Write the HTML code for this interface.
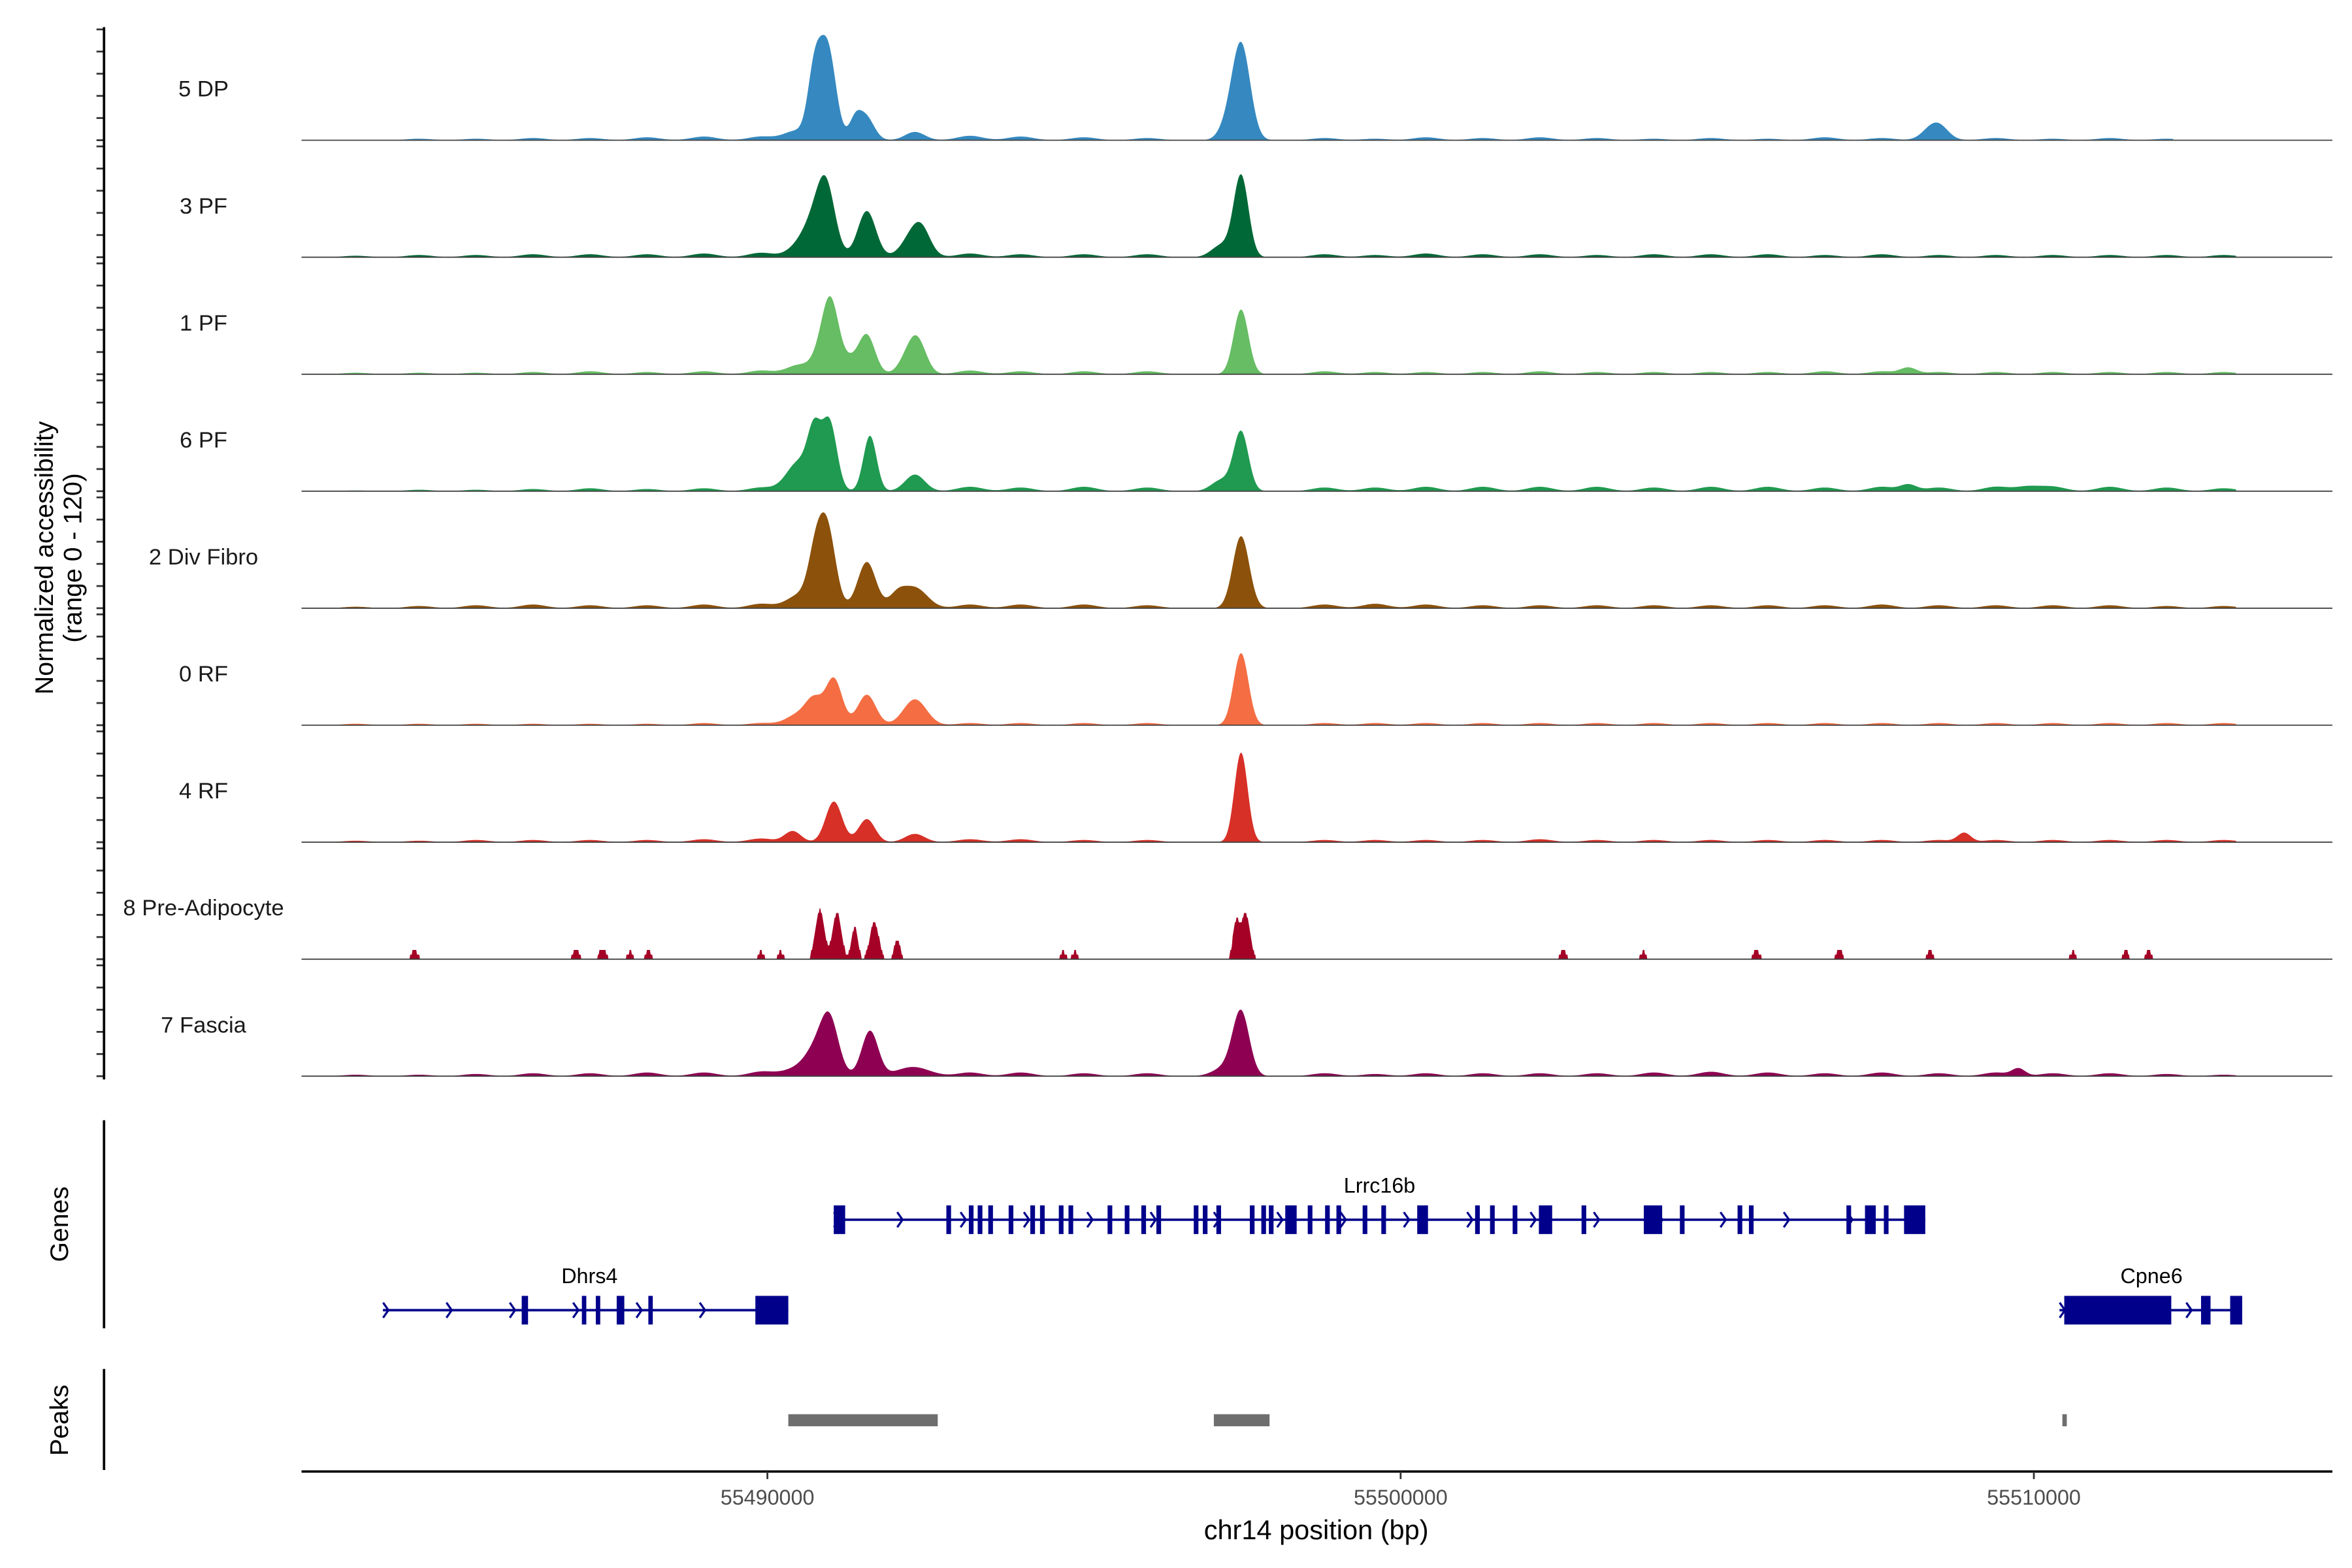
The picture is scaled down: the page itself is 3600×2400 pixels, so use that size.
<!DOCTYPE html>
<html><head><meta charset="utf-8"><style>
html,body{margin:0;padding:0;background:#fff}
svg{display:block}
text{font-family:"Liberation Sans",Arial,sans-serif}
</style></head><body>
<svg id="chart" xmlns="http://www.w3.org/2000/svg" width="3600" height="2400" viewBox="0 0 1560 1040">
<rect x="0" y="0" width="1560" height="1040" fill="#fff"/>
<g id="tracks"></g>
<g id="genes"></g>
<g id="peaks"></g>
<g id="axes"></g>
<text transform="translate(35,370) rotate(-90)" text-anchor="middle" font-size="17" fill="#000">Normalized accessibility</text>
<text transform="translate(54,370) rotate(-90)" text-anchor="middle" font-size="17" fill="#000">(range 0 - 120)</text>
<text transform="translate(45,812) rotate(-90)" text-anchor="middle" font-size="17" fill="#000">Genes</text>
<text transform="translate(45,942) rotate(-90)" text-anchor="middle" font-size="17" fill="#000">Peaks</text>
<text x="873" y="1021" text-anchor="middle" font-size="18" fill="#000">chr14 position (bp)</text>
</svg>
<script>
// ---- data (positions in kb offset from 55480000, values in accessibility units 0-120) ----
const trackNames = ["5 DP","3 PF","1 PF","6 PF","2 Div Fibro","0 RF","4 RF","8 Pre-Adipocyte","7 Fascia"];
const trackColors = ["#3589c0","#006837","#66bd63","#1f9a50","#8c510a","#f46d43","#d73027","#a50026","#8e0152"];
const trackStart = [3.2,3.0,3.0,3.0,3.0,3.0,3.0,4.3,3.0];
const trackEnd = [32.2,33.2,33.2,33.2,33.2,33.2,33.2,31.9,33.2];
const peakPos = [
 [10.45,10.74,10.95,11.38,11.55,12.33,17.25,17.48,28.40,28.55],
 [10.55,10.74,10.93,11.57,12.33,12.45,17.17,17.48],
 [10.50,10.83,11.00,11.30,11.57,12.28,12.40,17.48,28.02],
 [10.50,10.74,10.98,11.62,12.33,17.17,17.48,28.02,29.90],
 [10.50,10.76,10.95,11.57,12.05,12.33,17.48],
 [10.50,10.74,11.05,11.57,12.33,17.48],
 [10.40,11.05,11.57,12.33,17.48,28.90],
 [4.43,6.98,7.40,7.83,8.12,9.90,10.21,10.83,11.10,11.38,11.69,12.05,14.67,14.86,17.40,17.55,22.57,23.83,25.62,26.93,28.36,30.62,31.45,31.81],
 [10.55,10.75,10.98,11.62,12.30,17.25,17.48,29.76]
];
const peakVal = [
 [10,66,100,18,26,9,12,104,13,6],
 [15,26,72,50,28,13,13,88],
 [10,16,76,13,42,28,18,70,7],
 [32,55,74,60,18,12,64,7,5],
 [14,52,82,50,13,22,78],
 [12,24,50,33,28,78],
 [12,44,25,9,97,10],
 [9,10,11,8,9,8,8,53,50,35,40,20,8,8,38,50,10,8,9,11,9,8,9,9],
 [10,19,60,49,10,10,67,8]
];
const peakWidth = [
 [0.15,0.08,0.10,0.07,0.10,0.12,0.10,0.11,0.12,0.10],
 [0.15,0.12,0.11,0.11,0.14,0.10,0.12,0.09],
 [0.15,0.10,0.10,0.10,0.10,0.12,0.10,0.09,0.10],
 [0.15,0.08,0.09,0.08,0.12,0.12,0.09,0.10,0.15],
 [0.15,0.09,0.10,0.11,0.10,0.15,0.10],
 [0.15,0.10,0.10,0.11,0.14,0.09],
 [0.10,0.10,0.10,0.12,0.08,0.08],
 [0.06,0.06,0.06,0.05,0.05,0.05,0.05,0.07,0.07,0.05,0.07,0.05,0.05,0.05,0.05,0.07,0.05,0.05,0.06,0.05,0.05,0.05,0.05,0.05],
 [0.20,0.12,0.11,0.10,0.20,0.15,0.10,0.08]
];
const bgPos = [3.5,4.5,5.4,6.3,7.2,8.1,9.0,9.9,13.2,14.0,15.0,16.0,18.8,19.6,20.4,21.3,22.2,23.1,24.0,24.9,25.8,26.7,27.6,28.5,29.4,30.3,31.2,32.1,33.0];
const bgVal = [
 [0,2,2,3,3,4,5,5,6,5,4,3,3,2,4,3,4,3,2,3,2,4,3,3,3,2,3,2,0],
 [2,3,3,4,4,4,5,6,5,4,4,4,4,3,5,4,4,3,4,4,4,3,4,3,3,3,3,3,3],
 [2,2,2,3,4,3,4,5,5,4,4,4,4,3,3,3,4,3,3,3,3,4,4,3,3,3,3,3,3],
 [1,2,2,3,4,3,4,5,6,5,6,5,5,5,6,6,6,6,5,6,6,5,6,5,6,6,6,5,4],
 [2,3,4,5,4,4,5,6,5,5,5,4,5,6,5,4,4,4,4,4,4,4,5,4,4,4,4,3,3],
 [2,2,2,2,2,2,3,3,3,3,3,3,3,3,3,3,3,3,3,3,3,3,3,3,3,3,3,3,3],
 [2,2,3,3,3,3,4,5,4,4,3,3,3,3,3,3,4,3,3,3,3,3,3,3,3,3,3,3,3],
 [0,0,0,0,0,0,0,0,0,0,0,0,0,0,0,0,0,0,0,0,0,0,0,0,0,0,0,0,0],
 [2,2,3,4,4,5,5,6,5,5,4,4,4,3,4,4,4,4,5,6,5,4,5,4,5,4,4,3,2]
];
// genes
const geneNames = ["Lrrc16b","Dhrs4","Cpne6"];
const geneStart = [11.048,3.929,30.405];
const geneEnd = [28.285,10.33,33.29];
const geneRow = [0,1,1];
const exonStarts = [
 [11.048,12.826,13.181,13.321,13.488,13.810,14.152,14.305,14.602,14.755,15.372,15.643,15.905,16.143,16.733,16.876,17.090,17.619,17.800,17.919,18.178,18.533,18.807,18.986,19.400,19.695,20.262,21.176,21.412,21.769,22.183,22.857,23.840,24.410,25.321,25.500,27.040,27.333,27.631,27.95],
 [6.12,7.07,7.29,7.62,8.12,9.81],
 [30.48,32.64,33.10]
];
const exonEnds = [
 [11.228,12.90,13.255,13.395,13.562,13.884,14.226,14.379,14.676,14.829,15.446,15.717,15.979,16.217,16.807,16.950,17.164,17.693,17.874,17.993,18.358,18.607,18.881,19.060,19.474,19.769,20.432,21.250,21.486,21.843,22.393,22.931,24.13,24.484,25.395,25.574,27.114,27.503,27.705,28.285],
 [6.22,7.14,7.36,7.74,8.19,10.33],
 [32.17,32.79,33.29]
];
// peaks (called regions)
const peakRegionStart = [10.33,17.05,30.45];
const peakRegionEnd = [12.69,17.93,30.52];
// x axis ticks
const xTicks = [55490000,55500000,55510000];
const xTickLabels = ["55490000","55500000","55510000"];
</script>
<script>
const NS="http://www.w3.org/2000/svg";
const X0=200, X1=1547, KB0=2.643, PXKB=42;
function xs(kb){return X0+(kb-KB0)*PXKB;}
function xbp(bp){return xs((bp-55480000)/1000);}
const base0=93, step=77.6, H=73.5;
function ys(v,i){return base0+i*step - v/120*H;}
function mk(tag,attrs,parent){const e=document.createElementNS(NS,tag);for(const k in attrs)e.setAttribute(k,attrs[k]);parent.appendChild(e);return e;}
const gT=document.getElementById('tracks');
const gA=document.getElementById('axes');
for(let i=0;i<trackNames.length;i++){
  const baseY=base0+i*step;
  const blocky=(i===7);
  const wf = blocky ? 1.0 : 1.3;
  let d="M"+xs(trackStart[i]).toFixed(2)+","+baseY;
  for(let x=xs(trackStart[i]);x<=xs(trackEnd[i]);x+=0.5){
    const kb=KB0+(x-X0)/PXKB;
    let v=0;
    for(let j=0;j<peakPos[i].length;j++){const z=(kb-peakPos[i][j])/(peakWidth[i][j]*wf);v+=peakVal[i][j]*Math.exp(-0.5*z*z);}
    for(let j=0;j<bgPos.length;j++){const z=(kb-bgPos[j])/0.2;v+=bgVal[i][j]*0.8*Math.exp(-0.5*z*z);}
    if(blocky){v=v<4?0:Math.round(v/5)*5;}
    v=Math.min(v,120);
    d+="L"+x.toFixed(2)+","+ys(v,i).toFixed(2);
  }
  d+="L"+xs(trackEnd[i]).toFixed(2)+","+baseY+"Z";
  const p=mk('path',{d:d,fill:trackColors[i]},gT);
  
  
  const bl=mk('line',{x1:X0,x2:X1,y1:baseY,y2:baseY,stroke:'#444','stroke-width':0.8},gT);
  
  
  const t=mk('text',{x:135,y:baseY-29,'text-anchor':'middle','font-size':15,fill:'#1a1a1a'},gT);
  t.textContent=trackNames[i];
  
  
  for(let k=0;k<=5;k++){
    const ty=baseY-k*H/5;
    const tk=mk('line',{x1:64,x2:69,y1:ty,y2:ty,stroke:'#333','stroke-width':1.2},gA);
    
    
  }
}
[[18,716],[743,881],[908,975]].forEach(function(r){
  const l=mk('line',{x1:69,x2:69,y1:r[0],y2:r[1],stroke:'#000','stroke-width':1.6},gA);
  
  
});
const gG=document.getElementById('genes');
const rowY=[809,869];
for(let g=0;g<geneNames.length;g++){
  const y=rowY[geneRow[g]];
  const ln=mk('line',{x1:xs(geneStart[g]),x2:xs(geneEnd[g]),y1:y,y2:y,stroke:'#00008b','stroke-width':1.6},gG);
  
  
  for(let a=geneStart[g]+0.05;a<geneEnd[g]-0.1;a+=1){
    const ax=xs(a);
    const ch=mk('path',{d:"M"+(ax-2)+","+(y-5)+"L"+(ax+1.5)+","+y+"L"+(ax-2)+","+(y+5),fill:'none',stroke:'#00008b','stroke-width':1.4},gG);
    
    
  }
  for(let e=0;e<exonStarts[g].length;e++){
    const x0=xs(exonStarts[g][e]), x1=xs(exonEnds[g][e]);
    const r=mk('rect',{x:x0,y:y-9.5,width:Math.max(x1-x0,2.5),height:19,fill:'#00008b'},gG);
    
    
  }
  const lx = g===0 ? 915 : (g===1 ? 391 : 1427);
  const t=mk('text',{x:lx,y:y-18,'text-anchor':'middle','font-size':14,fill:'#000'},gG);
  t.textContent=geneNames[g];
  
  
}
const gP=document.getElementById('peaks');
for(let i=0;i<peakRegionStart.length;i++){
  const x0=xs(peakRegionStart[i]), x1=xs(peakRegionEnd[i]);
  const r=mk('rect',{x:x0,y:938,width:Math.max(x1-x0,2.5),height:8,fill:'#6e6e6e'},gP);
  
  
}
const xl=mk('line',{x1:X0,x2:X1,y1:976,y2:976,stroke:'#000','stroke-width':1.6},gA);


for(let i=0;i<xTicks.length;i++){
  const x=xbp(xTicks[i]);
  const tk=mk('line',{x1:x,x2:x,y1:976,y2:981,stroke:'#333','stroke-width':1.2},gA);
  
  
  const t=mk('text',{x:x,y:998,'text-anchor':'middle','font-size':14,fill:'#4d4d4d'},gA);
  t.textContent=xTickLabels[i];
  
  
}
</script>
</body></html>
